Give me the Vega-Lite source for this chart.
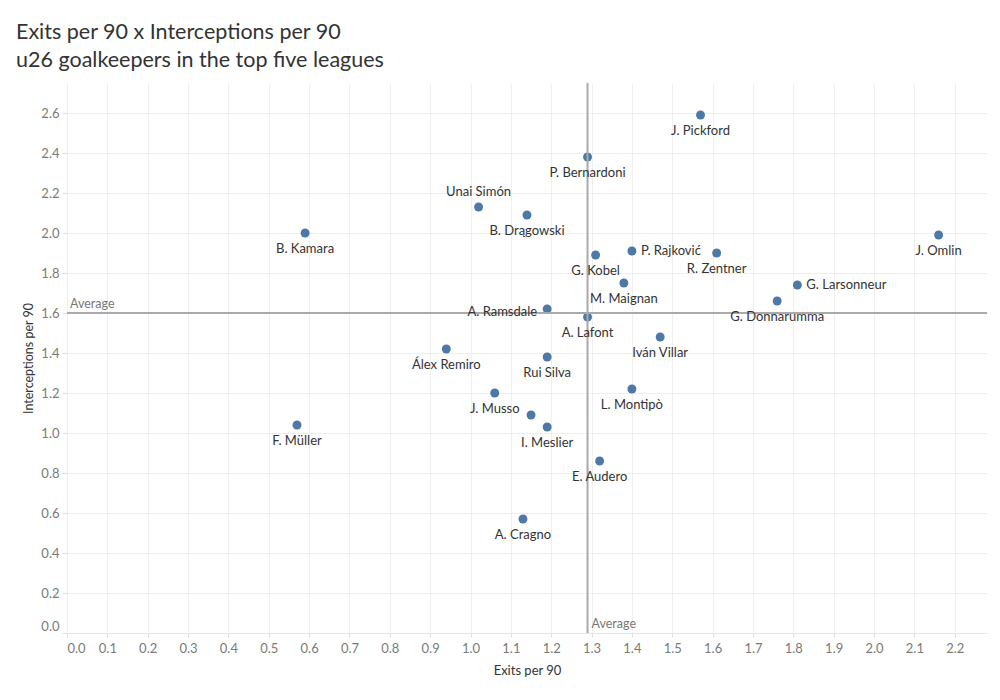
{
  "$schema": "https://vega.github.io/schema/vega-lite/v6.json",
  "width": 920,
  "height": 550,
  "autosize": "none",
  "padding": {"left": 67, "top": 83, "right": 13, "bottom": 67},
  "background": "white",
  "config": {"font": "Lato", "view": {"stroke": null}},
  "title": {
    "text": ["Exits per 90 x Interceptions per 90", "u26 goalkeepers in the top five leagues"],
    "anchor": "start",
    "frame": "group",
    "dx": -51,
    "fontSize": 21.5,
    "fontWeight": "normal",
    "color": "#333333",
    "lineHeight": 28,
    "offset": 11
  },
  "datasets": {
    "keepers": [
      {"player": "J. Pickford", "exits": 1.57, "interceptions": 2.59},
      {"player": "P. Bernardoni", "exits": 1.29, "interceptions": 2.38},
      {"player": "Unai Simón", "exits": 1.02, "interceptions": 2.13},
      {"player": "B. Drągowski", "exits": 1.14, "interceptions": 2.09},
      {"player": "B. Kamara", "exits": 0.59, "interceptions": 2.0},
      {"player": "G. Kobel", "exits": 1.31, "interceptions": 1.89},
      {"player": "P. Rajković", "exits": 1.4, "interceptions": 1.91},
      {"player": "R. Zentner", "exits": 1.61, "interceptions": 1.9},
      {"player": "J. Omlin", "exits": 2.16, "interceptions": 1.99},
      {"player": "M. Maignan", "exits": 1.38, "interceptions": 1.75},
      {"player": "G. Larsonneur", "exits": 1.81, "interceptions": 1.74},
      {"player": "G. Donnarumma", "exits": 1.76, "interceptions": 1.66},
      {"player": "A. Lafont", "exits": 1.29, "interceptions": 1.58},
      {"player": "A. Ramsdale", "exits": 1.19, "interceptions": 1.62},
      {"player": "Álex Remiro", "exits": 0.94, "interceptions": 1.42},
      {"player": "Rui Silva", "exits": 1.19, "interceptions": 1.38},
      {"player": "Iván Villar", "exits": 1.47, "interceptions": 1.48},
      {"player": "J. Musso", "exits": 1.06, "interceptions": 1.2},
      {"player": "L. Montipò", "exits": 1.4, "interceptions": 1.22},
      {"player": null, "exits": 1.15, "interceptions": 1.09},
      {"player": "I. Meslier", "exits": 1.19, "interceptions": 1.03},
      {"player": "E. Audero", "exits": 1.32, "interceptions": 0.86},
      {"player": "A. Cragno", "exits": 1.13, "interceptions": 0.57},
      {"player": "F. Müller", "exits": 0.57, "interceptions": 1.04}
    ],
    "averages": [
      {"label": "Average", "exits": 1.29, "interceptions": 1.6, "zero": 0}
    ]
  },
  "layer": [
    {
      "data": {"name": "keepers"},
      "mark": {"type": "point", "filled": true, "size": 80, "color": "#4e79a7", "opacity": 1},
      "encoding": {
        "x": {
          "field": "exits",
          "type": "quantitative",
          "scale": {"domain": [0, 2.28], "nice": false, "zero": false},
          "axis": {
            "values": [0, 0.1, 0.2, 0.3, 0.4, 0.5, 0.6, 0.7, 0.8, 0.9, 1.0, 1.1, 1.2, 1.3, 1.4, 1.5, 1.6, 1.7, 1.8, 1.9, 2.0, 2.1, 2.2],
            "format": ".1f",
            "title": "Exits per 90",
            "grid": true,
            "gridColor": "#efefef",
            "domainColor": "#e6e6e6",
            "tickColor": "#e0e0e0",
            "tickSize": 4,
            "labelColor": "#7a7a7a",
            "labelFontSize": 13,
            "labelPadding": 5,
            "labelFlush": true,
            "titleFontSize": 13,
            "titleColor": "#333333",
            "titleFontWeight": "normal",
            "titlePadding": 9
          }
        },
        "y": {
          "field": "interceptions",
          "type": "quantitative",
          "scale": {"domain": [0, 2.75], "nice": false, "zero": false},
          "axis": {
            "values": [0, 0.2, 0.4, 0.6, 0.8, 1.0, 1.2, 1.4, 1.6, 1.8, 2.0, 2.2, 2.4, 2.6],
            "format": ".1f",
            "title": "Interceptions per 90",
            "grid": true,
            "gridColor": "#efefef",
            "domain": false,
            "tickColor": "#e0e0e0",
            "tickSize": 5,
            "labelColor": "#7a7a7a",
            "labelFontSize": 13,
            "labelPadding": 3,
            "labelFlush": true,
            "titleFontSize": 12.5,
            "titleColor": "#333333",
            "titleFontWeight": "normal",
            "titlePadding": 5
          }
        }
      }
    },
    {
      "data": {"name": "averages"},
      "mark": {"type": "rule", "color": "#aaaaaa", "strokeWidth": 2},
      "encoding": {"y": {"field": "interceptions", "type": "quantitative"}}
    },
    {
      "data": {"name": "averages"},
      "mark": {"type": "rule", "color": "#aaaaaa", "strokeWidth": 2},
      "encoding": {"x": {"field": "exits", "type": "quantitative"}}
    },
    {
      "data": {"name": "averages"},
      "mark": {"type": "text", "align": "left", "baseline": "bottom", "dx": 3, "dy": -2, "fontSize": 12.5, "color": "#777777"},
      "encoding": {
        "x": {"field": "zero", "type": "quantitative"},
        "y": {"field": "interceptions", "type": "quantitative"},
        "text": {"field": "label"}
      }
    },
    {
      "data": {"name": "averages"},
      "mark": {"type": "text", "align": "left", "baseline": "bottom", "dx": 4, "dy": -2, "fontSize": 12.5, "color": "#777777"},
      "encoding": {
        "x": {"field": "exits", "type": "quantitative"},
        "y": {"field": "zero", "type": "quantitative"},
        "text": {"field": "label"}
      }
    },
    {
      "data": {"name": "keepers"},
      "transform": [{"filter": "datum.player != null && indexof(['Unai Simón', 'P. Rajković', 'G. Larsonneur', 'A. Ramsdale'], datum.player) < 0"}],
      "mark": {"type": "text", "align": "center", "baseline": "middle", "dy": 16, "fontSize": 13, "color": "#333333"},
      "encoding": {
        "x": {"field": "exits", "type": "quantitative"},
        "y": {"field": "interceptions", "type": "quantitative"},
        "text": {"field": "player"}
      }
    },
    {
      "data": {"name": "keepers"},
      "transform": [{"filter": {"field": "player", "oneOf": ["Unai Simón"]}}],
      "mark": {"type": "text", "align": "center", "baseline": "middle", "dy": -15, "fontSize": 13, "color": "#333333"},
      "encoding": {
        "x": {"field": "exits", "type": "quantitative"},
        "y": {"field": "interceptions", "type": "quantitative"},
        "text": {"field": "player"}
      }
    },
    {
      "data": {"name": "keepers"},
      "transform": [{"filter": {"field": "player", "oneOf": ["P. Rajković", "G. Larsonneur"]}}],
      "mark": {"type": "text", "align": "left", "baseline": "middle", "dx": 9, "fontSize": 13, "color": "#333333"},
      "encoding": {
        "x": {"field": "exits", "type": "quantitative"},
        "y": {"field": "interceptions", "type": "quantitative"},
        "text": {"field": "player"}
      }
    },
    {
      "data": {"name": "keepers"},
      "transform": [{"filter": {"field": "player", "oneOf": ["A. Ramsdale"]}}],
      "mark": {"type": "text", "align": "right", "baseline": "middle", "dx": -10, "dy": 3, "fontSize": 13, "color": "#333333"},
      "encoding": {
        "x": {"field": "exits", "type": "quantitative"},
        "y": {"field": "interceptions", "type": "quantitative"},
        "text": {"field": "player"}
      }
    }
  ]
}
